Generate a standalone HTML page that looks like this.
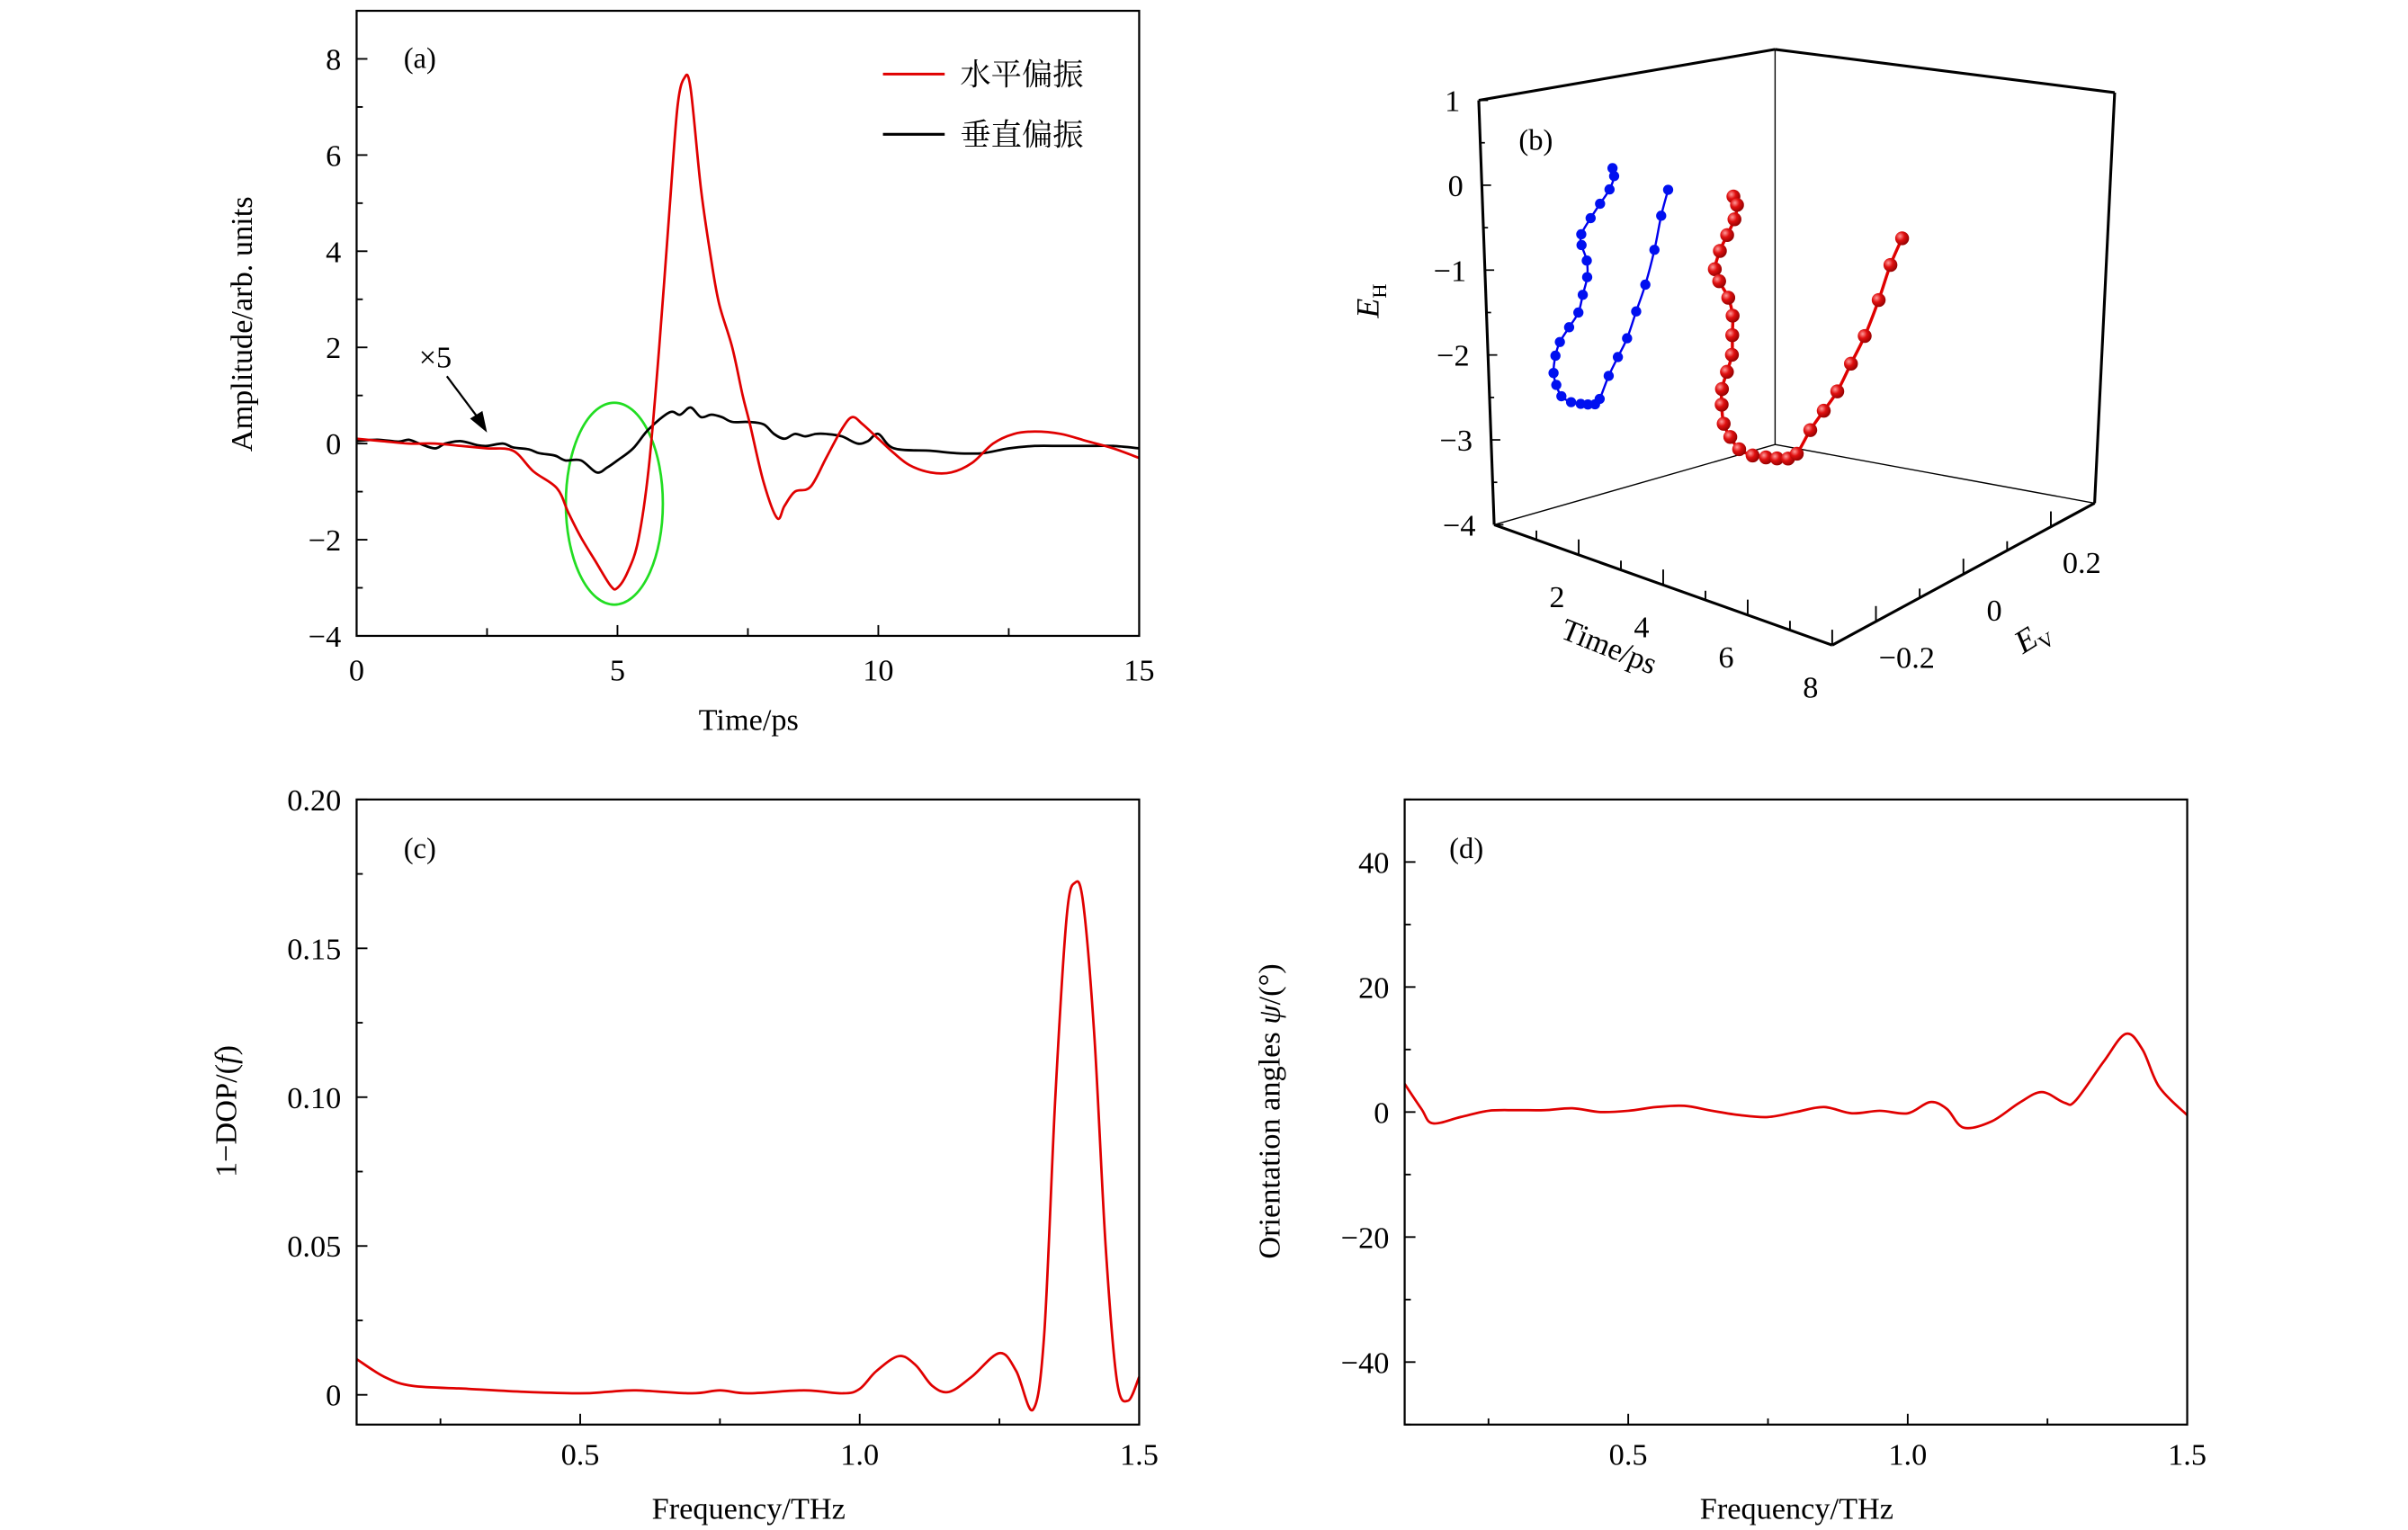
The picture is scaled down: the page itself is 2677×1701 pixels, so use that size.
<!DOCTYPE html>
<html><head><meta charset="utf-8"><style>
html,body{margin:0;padding:0;background:#fff;}
svg{display:block;}
text{font-family:"Liberation Serif","DejaVu Serif","Noto Serif CJK SC",serif;fill:#000;}
.cjk{font-family:"Noto Serif CJK SC","Noto Sans CJK SC",serif;}
</style></head><body>
<svg id="fig" xmlns="http://www.w3.org/2000/svg" width="2677" height="1701" viewBox="0 0 1560 991.3" font-family="Liberation Serif, DejaVu Serif, serif"></svg>
<script>
// ---------- Panel (a) data ----------
const aRedT = [0,0.5,1,1.5,2,2.5,3,3.39,3.84,4.06,4.3,4.58,4.87,5.0,5.2,5.4,5.6,5.8,6.0,6.15,6.28,6.4,6.6,6.8,6.95,7.2,7.4,7.54,7.8,8.06,8.2,8.4,8.7,9.0,9.3,9.5,9.7,10,10.3,10.6,11,11.4,11.8,12.2,12.6,13,13.5,14,14.5,15];
const aRedV = [0.1,0.05,0.0,0.0,-0.05,-0.1,-0.15,-0.58,-0.93,-1.44,-1.95,-2.45,-2.96,-3.0,-2.66,-2.0,-0.5,2.0,4.9,7.0,7.6,7.4,5.3,3.8,2.9,2.0,1.0,0.4,-0.8,-1.55,-1.3,-1.0,-0.9,-0.3,0.3,0.55,0.4,0.1,-0.2,-0.45,-0.6,-0.6,-0.4,0.0,0.2,0.25,0.2,0.05,-0.1,-0.3];
const aBlkT = [0,0.4,0.8,1.0,1.2,1.5,1.7,2.0,2.3,2.5,2.8,3.0,3.3,3.5,3.8,4.0,4.3,4.6,4.8,5.0,5.3,5.6,6.0,6.2,6.4,6.6,6.8,7.0,7.2,7.5,7.8,8.0,8.2,8.4,8.6,8.8,9.0,9.3,9.6,9.8,10,10.3,11,11.5,12,12.5,13,13.5,14,14.5,15];
const aBlkV = [0.05,0.08,0.04,0.08,0.0,-0.1,0.0,0.05,-0.03,-0.05,0.0,-0.08,-0.12,-0.2,-0.25,-0.35,-0.35,-0.6,-0.5,-0.35,-0.1,0.3,0.65,0.6,0.75,0.55,0.6,0.55,0.45,0.45,0.4,0.2,0.1,0.2,0.15,0.2,0.2,0.15,0.0,0.05,0.2,-0.1,-0.15,-0.2,-0.2,-0.1,-0.05,-0.05,-0.05,-0.05,-0.1];
const aXTicks = [0,5,10,15];
const aYTicks = [-4,-2,0,2,4,6,8];
// ---------- Panel (b) data (time, E_V, E_H) ----------
const bT  = [2.8,2.85,2.9,2.95,3.0,3.1,3.2,3.3,3.4,3.5,3.6,3.7,3.8,3.9,4.0,4.1,4.2,4.3,4.4,4.5,4.6,4.7,4.8,4.9,5.0,5.1,5.2,5.3,5.4,5.5];
const bEV = [-0.033,-0.03,-0.04,-0.06,-0.08,-0.10,-0.10,-0.09,-0.09,-0.10,-0.11,-0.13,-0.15,-0.16,-0.165,-0.16,-0.15,-0.13,-0.11,-0.095,-0.08,-0.07,-0.05,-0.03,-0.01,0.01,0.03,0.05,0.065,0.08];
const bEH = [-0.10,-0.2,-0.35,-0.5,-0.65,-0.82,-0.95,-1.15,-1.35,-1.55,-1.75,-1.9,-2.05,-2.2,-2.4,-2.55,-2.7,-2.8,-2.85,-2.88,-2.9,-2.85,-2.6,-2.4,-2.2,-1.9,-1.6,-1.2,-0.8,-0.5];
const bEHTicks = [-4,-3,-2,-1,0,1];
const bTTicks = [2,4,6,8];
const bEVTicks = [-0.2,0,0.2];
// ---------- Panel (c) data ----------
const cF = [0.1,0.15,0.2,0.3,0.4,0.5,0.55,0.6,0.7,0.75,0.8,0.9,0.97,1.0,1.03,1.07,1.1,1.13,1.16,1.2,1.25,1.28,1.31,1.33,1.35,1.37,1.385,1.40,1.42,1.44,1.46,1.48,1.5];
const cV = [0.012,0.006,0.003,0.002,0.001,0.0005,0.001,0.0015,0.0005,0.0015,0.0005,0.0015,0.0005,0.002,0.008,0.013,0.01,0.003,0.001,0.006,0.014,0.008,-0.005,0.02,0.1,0.16,0.172,0.165,0.12,0.05,0.005,-0.002,0.006];
const cXTicks = [0.5,1.0,1.5];
const cYTicks = [0,0.05,0.10,0.15,0.20];
const cYLabels = ["0","0.05","0.10","0.15","0.20"];
// ---------- Panel (d) data ----------
const dF = [0.1,0.13,0.15,0.2,0.25,0.3,0.35,0.4,0.45,0.5,0.55,0.6,0.65,0.7,0.75,0.8,0.85,0.9,0.95,1.0,1.04,1.07,1.1,1.15,1.2,1.24,1.28,1.3,1.35,1.39,1.42,1.45,1.5];
const dV = [4.5,0.5,-1.8,-0.8,0.2,0.3,0.3,0.6,0.0,0.2,0.8,1.0,0.2,-0.5,-0.8,0.0,0.8,-0.2,0.2,-0.2,1.6,0.5,-2.5,-1.5,1.5,3.2,1.5,1.8,8,12.5,10,4,-0.5];
const dYTicks = [-40,-20,0,20,40];

const NS="http://www.w3.org/2000/svg";
const FONT='"Liberation Serif","DejaVu Serif",serif';
const svg=document.getElementById('fig');
function mk(tag,attrs,parent){const e=document.createElementNS(NS,tag);for(const k in attrs)e.setAttribute(k,attrs[k]);(parent||svg).appendChild(e);return e;}
function txt(s,x,y,size,anchor,parent,extra){const e=mk('text',Object.assign({x:x,y:y,'font-size':size,'text-anchor':anchor||'middle','font-family':FONT},extra||{}),parent);e.textContent=s;return e;}
function smooth(pts){
  let d='M'+pts[0][0].toFixed(2)+','+pts[0][1].toFixed(2);
  for(let i=0;i<pts.length-1;i++){const p0=pts[Math.max(0,i-1)],p1=pts[i],p2=pts[i+1],p3=pts[Math.min(pts.length-1,i+2)];
    const c1=[p1[0]+(p2[0]-p0[0])/6,p1[1]+(p2[1]-p0[1])/6],c2=[p2[0]-(p3[0]-p1[0])/6,p2[1]-(p3[1]-p1[1])/6];
    d+=' C'+c1[0].toFixed(2)+','+c1[1].toFixed(2)+' '+c2[0].toFixed(2)+','+c2[1].toFixed(2)+' '+p2[0].toFixed(2)+','+p2[1].toFixed(2);}
  return d;}
function axes2d(g,x0,x1,y0,y1,xmin,xmax,ymin,ymax){
  const sx=v=>x0+(v-xmin)/(xmax-xmin)*(x1-x0), sy=v=>y1-(v-ymin)/(ymax-ymin)*(y1-y0);
  return {sx,sy};}
function frame(g,x0,y0,x1,y1){const r=mk('rect',{x:x0,y:y0,width:x1-x0,height:y1-y0,fill:'none',stroke:'#000','stroke-width':1.3},g);}
function xtick(g,x,y1,len){mk('line',{x1:x,y1:y1,x2:x,y2:y1-len,stroke:'#000','stroke-width':1.1},g);}
function ytick(g,x0,y,len){mk('line',{x1:x0,y1:y,x2:x0+len,y2:y,stroke:'#000','stroke-width':1.1},g);}

// ================= Panel (a) =================
(function(){
  const g=mk('g',{});
  const X0=231,X1=738,Y0=7,Y1=412;
  const {sx,sy}=axes2d(g,X0,X1,Y0,Y1,0,15,-4,9);
  for(let t=0;t<=15;t+=2.5){xtick(g,sx(t),Y1,t%5===0?7:5);}
  for(let v=-4;v<=9;v+=1){ytick(g,X0,sy(v),v%2===0?7:4);}
  aXTicks.forEach(t=>{const e=txt(String(t),sx(t),441,20,'middle',g);});
  aYTicks.forEach(v=>{const e=txt(v<0?'\u2212'+(-v):String(v),221,sy(v)+7,20,'end',g);});
  let e=txt('Time/ps',485,473,20,'middle',g);
  e=txt('Amplitude/arb. units',0,0,20,'middle',g,{transform:'translate(163,210) rotate(-90)'});
  e=txt('(a)',272,44,19,'middle',g);
  e=mk('ellipse',{cx:sx(4.94),cy:sy(-1.25),rx:sx(4.94+0.93)-sx(4.94),ry:sy(-1.25-2.1)-sy(-1.25),fill:'none',stroke:'#22dd22','stroke-width':1.6},g);
  e=mk('path',{d:smooth(aBlkT.map((t,i)=>[sx(t),sy(aBlkV[i])])),fill:'none',stroke:'#000','stroke-width':1.6},g);
  e=mk('path',{d:smooth(aRedT.map((t,i)=>[sx(t),sy(aRedV[i])])),fill:'none',stroke:'#e00000','stroke-width':1.6},g);
  e=txt('\u00d75',282,238,20,'middle',g);
  const ax1=sx(1.73),ay1=sy(1.4),ax2=sx(2.5),ay2=sy(0.23);
  e=mk('line',{x1:ax1,y1:ay1,x2:ax2-4,y2:ay2-7,stroke:'#000','stroke-width':1.3},g);
  mk('polygon',{points:`${ax2},${ay2} ${ax2-11},${ay2-9} ${ax2-3},${ay2-14}`,fill:'#000'},g);
  const lg=mk('g',{},g);
  e=mk('line',{x1:572,y1:48,x2:612,y2:48,stroke:'#e00000','stroke-width':1.8},lg);
  e=txt('水平偏振',622,55,20,'start',lg,{class:'cjk','font-family':'"Noto Serif CJK SC","Noto Sans CJK SC",serif'});
  e=mk('line',{x1:572,y1:87,x2:612,y2:87,stroke:'#000','stroke-width':1.8},lg);
  e=txt('垂直偏振',622,94,20,'start',lg,{class:'cjk','font-family':'"Noto Serif CJK SC","Noto Sans CJK SC",serif'});
  frame(g,X0,Y0,X1,Y1);
})();

// ================= Panel (b) 3D =================
(function(){
  const g=mk('g',{});
  const P00=[968,340],P10=[1187,418],P11=[1357,326],P01=[1150,288];
  const U00=[-10,-275],U01=[0,-256],U11=[13,-266],U10=[3,-285];
  const lerp=(a,b,f)=>[a[0]+(b[0]-a[0])*f,a[1]+(b[1]-a[1])*f];
  function proj(t,ev,eh){const u=t/8,v=(ev+0.3)/0.6,h=(eh+4)/5;
    const A=lerp(P00,P10,u),B=lerp(P01,P11,u),F=lerp(A,B,v);
    const Ua=lerp(U00,U10,u),Ub=lerp(U01,U11,u),U=lerp(Ua,Ub,v);
    return [F[0]+U[0]*h,F[1]+U[1]*h];}
  function L(a,b,w,name){const e=mk('line',{x1:a[0],y1:a[1],x2:b[0],y2:b[1],stroke:'#000','stroke-width':w},g);}
  L(proj(0,0.3,-4),proj(0,0.3,1),0.8,'back-vertical-edge');
  L(proj(0,-0.3,-4),proj(0,0.3,-4),0.8,'floor-edge-left');
  L(proj(0,0.3,-4),proj(8,0.3,-4),0.8,'floor-edge-right');
  L(proj(0,-0.3,-4),proj(0,-0.3,1),1.8,'eh-axis');
  L(proj(0,-0.3,1),proj(0,0.3,1),1.8,'top-edge-left');
  L(proj(0,0.3,1),proj(8,0.3,1),1.8,'top-edge-right');
  L(proj(8,0.3,1),proj(8,0.3,-4),1.8,'right-vertical-edge');
  L(proj(0,-0.3,-4),proj(8,-0.3,-4),1.8,'time-axis');
  L(proj(8,-0.3,-4),proj(8,0.3,-4),1.8,'ev-axis');
  for(let h=-4;h<=1;h+=0.5){const p=proj(0,-0.3,h);mk('line',{x1:p[0],y1:p[1],x2:p[0]+(h%1===0?6:3),y2:p[1],stroke:'#000','stroke-width':1},g);}
  for(let t=1;t<=8;t+=1){const p=proj(t,-0.3,-4);mk('line',{x1:p[0],y1:p[1],x2:p[0],y2:p[1]-(t%2===0?10:6),stroke:'#000','stroke-width':1.1},g);}
  for(let v=-0.2;v<=0.31;v+=0.1){const p=proj(8,v,-4);mk('line',{x1:p[0],y1:p[1],x2:p[0],y2:p[1]-(Math.abs(Math.round(v*10))%2===0?10:6),stroke:'#000','stroke-width':1.1},g);}
  bEHTicks.forEach(h=>{const p=proj(0,-0.3,h);const e=txt(h<0?'\u2212'+(-h):String(h),p[0]-12,p[1]+7,20,'end',g);});
  bTTicks.forEach(t=>{const p=proj(t,-0.3,-4);const e=txt(String(t),p[0]-14,p[1]+34,20,'middle',g);});
  bEVTicks.forEach(v=>{const p=proj(8,v,-4);const lab=v<0?'\u22120.2':(v===0?'0':'0.2');const e=txt(lab,p[0]+20,p[1]+30,20,'middle',g);});
  let e=mk('text',{x:0,y:0,'font-size':20,'text-anchor':'middle','font-family':FONT,transform:'translate(1040,425) rotate(22)'},g);e.textContent='Time/ps';
  e=mk('text',{x:0,y:0,'font-size':21,'text-anchor':'middle','font-family':FONT,transform:'translate(1320,418) rotate(-32)'},g);e.innerHTML='<tspan font-style="italic">E</tspan><tspan font-size="13" dy="5">V</tspan>';
  e=mk('text',{x:0,y:0,'font-size':21,'text-anchor':'middle','font-family':FONT,transform:'translate(893,195) rotate(-90)'},g);e.innerHTML='<tspan font-style="italic">E</tspan><tspan font-size="13" dy="5">H</tspan>';
  e=txt('(b)',995,97,19,'middle',g);
  const blue=bT.map((t,i)=>proj(0,bEV[i],bEH[i])), red=bT.map((t,i)=>proj(t,bEV[i],bEH[i]));
  e=mk('path',{d:smooth(blue),fill:'none',stroke:'#0000ee','stroke-width':1.4},g);
  blue.forEach(p=>{const c=mk('circle',{cx:p[0],cy:p[1],r:3.3,fill:'#0010f0'},g);});
  e=mk('path',{d:smooth(red),fill:'none',stroke:'#e00000','stroke-width':2},g);
  const defs=mk('defs',{});const rg=mk('radialGradient',{id:'ball',cx:'0.35',cy:'0.35',r:'0.7'},defs);
  mk('stop',{offset:'0','stop-color':'#ff9a9a'},rg);mk('stop',{offset:'0.45','stop-color':'#e01010'},rg);mk('stop',{offset:'1','stop-color':'#900000'},rg);
  red.forEach(p=>{const c=mk('circle',{cx:p[0],cy:p[1],r:4.5,fill:'url(#ball)'},g);});
})();

// ================= Panel (c) =================
(function(){
  const g=mk('g',{});
  const X0=231,X1=738,Y0=518,Y1=923;
  const {sx,sy}=axes2d(g,X0,X1,Y0,Y1,0.1,1.5,-0.01,0.20);
  for(let f=0.25;f<=1.5001;f+=0.25){xtick(g,sx(f),Y1,Math.round(f*100)%50===0?7:4);}
  for(let v=0;v<=0.2001;v+=0.025){ytick(g,X0,sy(v),Math.round(v*1000)%50===0?7:4);}
  cXTicks.forEach(f=>{const e=txt(f.toFixed(1),sx(f),949,20,'middle',g);});
  cYTicks.forEach((v,i)=>{const e=txt(cYLabels[i],221,sy(v)+7,20,'end',g);});
  let e=txt('Frequency/THz',485,984,20,'middle',g);
  e=mk('text',{x:0,y:0,'font-size':20,'text-anchor':'middle','font-family':FONT,transform:'translate(153,720) rotate(-90)'},g);e.innerHTML='1\u2212DOP/(<tspan font-style="italic">f</tspan>)';
  e=txt('(c)',272,556,19,'middle',g);
  e=mk('path',{d:smooth(cF.map((f,i)=>[sx(f),sy(cV[i])])),fill:'none',stroke:'#e00000','stroke-width':1.6},g);
  frame(g,X0,Y0,X1,Y1);
})();

// ================= Panel (d) =================
(function(){
  const g=mk('g',{});
  const X0=910,X1=1417,Y0=518,Y1=923;
  const {sx,sy}=axes2d(g,X0,X1,Y0,Y1,0.1,1.5,-50,50);
  for(let f=0.25;f<=1.5001;f+=0.25){xtick(g,sx(f),Y1,Math.round(f*100)%50===0?7:4);}
  for(let v=-50;v<=50;v+=10){ytick(g,X0,sy(v),v%20===0?7:4);}
  cXTicks.forEach(f=>{const e=txt(f.toFixed(1),sx(f),949,20,'middle',g);});
  dYTicks.forEach(v=>{const e=txt(v<0?'\u2212'+(-v):String(v),900,sy(v)+7,20,'end',g);});
  let e=txt('Frequency/THz',1164,984,20,'middle',g);
  e=mk('text',{x:0,y:0,'font-size':20,'text-anchor':'middle','font-family':FONT,transform:'translate(829,720) rotate(-90)'},g);e.innerHTML='Orientation angles <tspan font-style="italic">ψ</tspan>/(°)';
  e=txt('(d)',950,556,19,'middle',g);
  e=mk('path',{d:smooth(dF.map((f,i)=>[sx(f),sy(dV[i])])),fill:'none',stroke:'#e00000','stroke-width':1.6},g);
  frame(g,X0,Y0,X1,Y1);
})();
</script>
</body></html>
